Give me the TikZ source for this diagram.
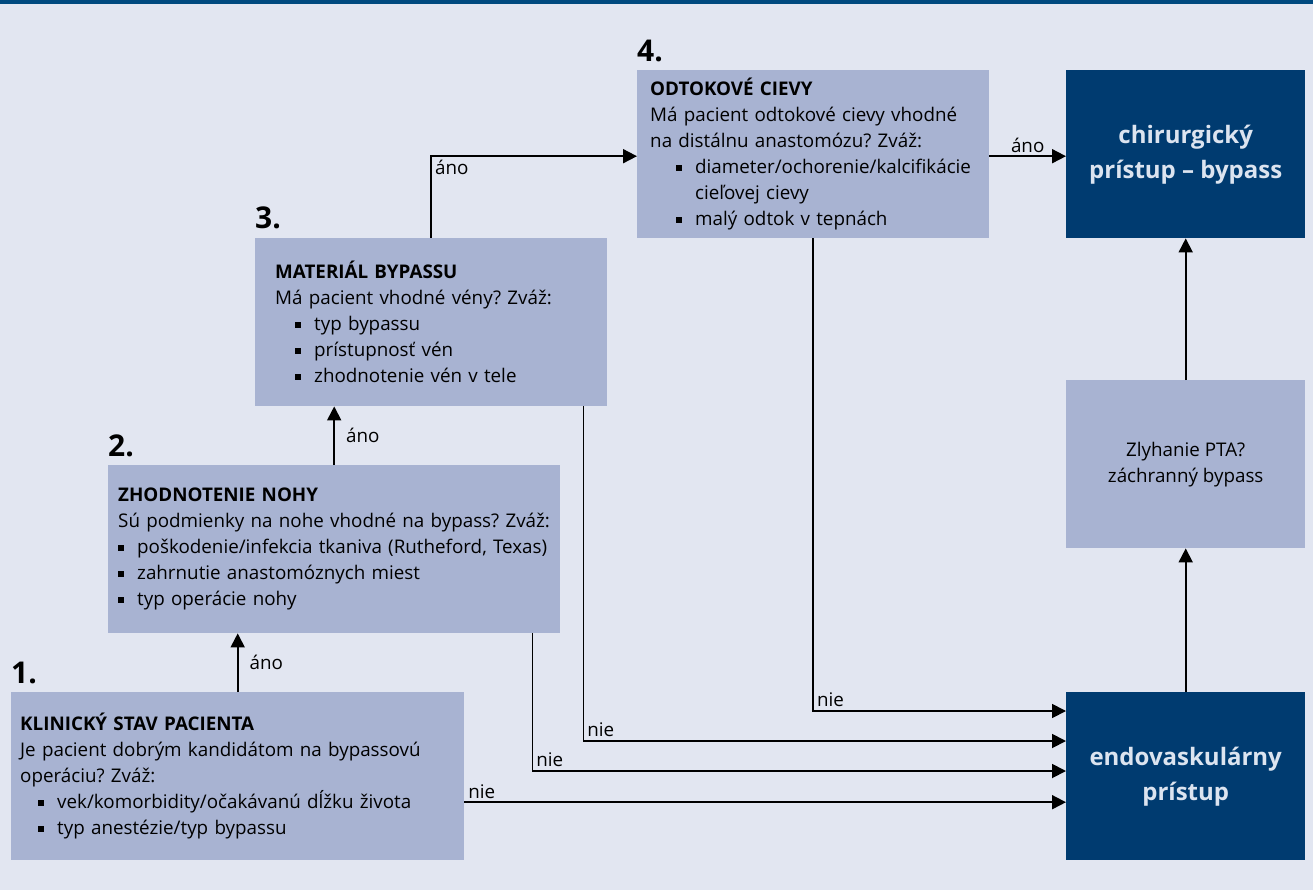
\documentclass[tikz,border=0pt]{standalone}
\usepackage{fontspec}
\setmainfont{Open Sans}
\usetikzlibrary{arrows.meta,positioning}
\setlength{\parindent}{0pt}
\frenchspacing
\definecolor{pozadie}{HTML}{E2E6F1}
\definecolor{pruh}{HTML}{00497F}
\definecolor{boxmodra}{HTML}{A8B3D2}
\definecolor{tmavomodra}{HTML}{003B70}
\definecolor{svetlytext}{HTML}{DCE4F0}
% odrazka: odsadenie, text
\newcommand{\odr}[2][0pt]{\par\hangindent=\dimexpr#1+19pt\relax\hangafter=1\hspace*{#1}\makebox[19pt][l]{\rule[2.5pt]{6pt}{6pt}}#2}

\tikzset{
  krok/.style={fill=boxmodra, inner ysep=0pt, minimum height=168pt, text width=#1,
    align=left, anchor=north west, font=\fontsize{18.8}{26}\selectfont},
  vysledok/.style={fill=tmavomodra, text=svetlytext, minimum width=239pt, minimum height=168pt,
    align=center, anchor=north west, font=\bfseries\fontsize{24}{35}\selectfont},
  medzikrok/.style={fill=boxmodra, minimum width=239pt, minimum height=168pt,
    align=center, anchor=north west, font=\fontsize{18.8}{26}\selectfont},
  cislo/.style={anchor=base west, inner sep=0pt, font=\bfseries\fontsize{30}{32}\selectfont},
  sipka/.style={line width=1.8pt, -{Triangle[length=14pt,width=14pt]}},
  popis/.style={font=\fontsize{18.8}{20}\selectfont, inner sep=3pt}
}

\begin{document}
\begin{tikzpicture}[x=1pt,y=-1pt]
\fill[pozadie] (0,0) rectangle (1313,890);
\fill[pruh] (0,0) rectangle (1313,4);

% kroky
\node[krok=435pt, inner xsep=9pt] (klin) at (11,692) {\textbf{KLINICKÝ STAV PACIENTA}\par
  Je pacient dobrým kandidátom na bypassovú\newline operáciu? Zváž:
  \odr[18pt]{vek/komorbidity/očakávanú dĺžku života}
  \odr[18pt]{typ anestézie/typ bypassu}};
\node[krok=432pt, inner xsep=10pt] (noha) at (108,465) {\textbf{ZHODNOTENIE NOHY}\par
  Sú podmienky na nohe vhodné na bypass? Zváž:
  \odr{poškodenie/infekcia tkaniva (Rutheford, Texas)}
  \odr{zahrnutie anastomóznych miest}
  \odr{typ operácie nohy}};
\node[krok=312pt, inner xsep=20pt] (mat) at (255,238) {\textbf{MATERIÁL BYPASSU}\par
  Má pacient vhodné vény? Zváž:
  \odr[20pt]{typ bypassu}
  \odr[20pt]{prístupnosť vén}
  \odr[20pt]{zhodnotenie vén v tele}};
\node[krok=326pt, inner xsep=13pt] (odt) at (637,70) {\textbf{ODTOKOVÉ CIEVY}\par
  Má pacient odtokové cievy vhodné\newline na distálnu anastomózu? Zváž:
  \odr[26pt]{diameter/ochorenie/kalcifikácie\newline cieľovej cievy}
  \odr[26pt]{malý odtok v tepnách}};

\node[cislo] (c1) at ([yshift=9pt]klin.north west) {1.};
\node[cislo] (c2) at ([yshift=9pt]noha.north west) {2.};
\node[cislo] (c3) at ([yshift=9pt]mat.north west) {3.};
\node[cislo] (c4) at ([yshift=8pt]odt.north west) {4.};

% vysledky
\node[vysledok] (chir) at (1066,70) {chirurgický\\prístup – bypass};
\node[medzikrok] (pta) at (1066,380) {Zlyhanie PTA?\\záchranný bypass};
\node[vysledok] (endo) at (1066,692) {endovaskulárny\\prístup};

% ano
\draw[sipka] (klin.north) -- (klin.north |- noha.south) node[popis, midway, right=8pt]{áno};
\draw[sipka] (noha.north) -- (noha.north |- mat.south) node[popis, midway, right=8pt]{áno};
\draw[sipka] (mat.north) |- ([yshift=-2pt]odt.west) node[popis, pos=0.5, below right]{áno};
\draw[sipka] ([yshift=-2pt]odt.east) -- ([yshift=-2pt]odt.east -| chir.west) node[popis, midway, above]{áno};
\draw[sipka] (pta.north) -- (chir.south);
\draw[sipka] (endo.north) -- (pta.south);

% nie
\draw[sipka] (odt.south) |- ([yshift=-19pt]endo.north west) node[popis, pos=0.5, above right]{nie};
\draw[sipka] ([xshift=-24pt]mat.south east) |- ([yshift=-49pt]endo.north west) node[popis, pos=0.5, above right]{nie};
\draw[sipka] ([xshift=-28pt]noha.south east) |- ([yshift=-79pt]endo.north west) node[popis, pos=0.5, above right]{nie};
\draw[sipka] ([yshift=-26pt]klin.east) -- ([yshift=-26pt]klin.east -| endo.west) node[popis, pos=0, above right]{nie};
\end{tikzpicture}
\end{document}
